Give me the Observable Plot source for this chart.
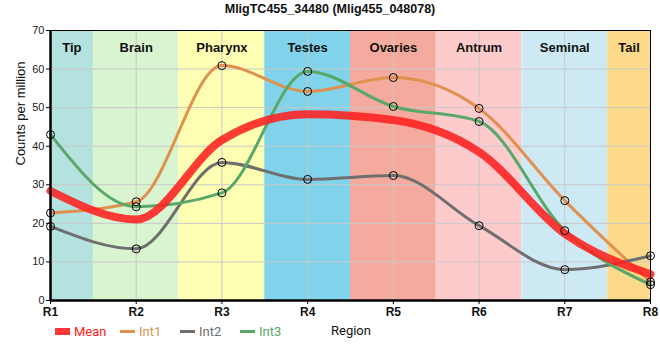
<!DOCTYPE html>
<html>
<head>
<meta charset="utf-8">
<script src="https://cdn.jsdelivr.net/npm/d3@7"></script>
<script src="https://cdn.jsdelivr.net/npm/@observablehq/plot@0.6"></script>
<style>
  html, body { margin: 0; padding: 0; background: #fff; }
  #wrap { position: relative; width: 660px; height: 360px; font-family: "Liberation Sans", Arial, sans-serif; }
  #title { position: absolute; left: 0; top: 2px; width: 660px; text-align: center; font-weight: bold; font-size: 12.5px; color: #111; }
  #chart { position: absolute; left: 0; top: 22px; }
  .leg { position: absolute; top: 322px; font-size: 13px; display: flex; align-items: center; height: 18px; font-family: "Roboto", "Liberation Sans", sans-serif; }
  .sw { display: inline-block; width: 15px; margin-right: 4px; }
  #xlabel { position: absolute; top: 322px; left: 331px; font-size: 13px; color: #111; font-family: "Roboto", "Liberation Sans", sans-serif; line-height: 18px; }
</style>
</head>
<body>
<div id="wrap">
  <div id="title">MligTC455_34480 (Mlig455_048078)</div>
  <div id="chart"></div>
  <div id="legend"></div>
  <div id="xlabel">Region</div>
</div>
<script>
const regions = ["Tip", "Brain", "Pharynx", "Testes", "Ovaries", "Antrum", "Seminal", "Tail"];
const regionStart = [1, 1.5, 2.5, 3.5, 4.5, 5.5, 6.5, 7.5];
const regionEnd = [1.5, 2.5, 3.5, 4.5, 5.5, 6.5, 7.5, 8];
const regionColors = ["#b3e2df", "#d9f5d0", "#ffffb4", "#80d3ea", "#f4aa9c", "#fecbcd", "#cdeaf4", "#fdd98b"];

const positions = [1, 2, 3, 4, 5, 6, 7, 8];
const tickLabels = ["R1", "R2", "R3", "R4", "R5", "R6", "R7", "R8"];
const yTicks = [0, 10, 20, 30, 40, 50, 60, 70];

const seriesNames = ["Mean", "Int1", "Int2", "Int3"];
const seriesColors = ["#ff2020", "#e0914f", "#6f6f6f", "#5aa76a"];
const mean = [28.4, 21.0, 41.6, 48.3, 46.8, 38.5, 17.3, 6.8];
const int1 = [22.7, 25.6, 60.9, 54.2, 57.8, 49.8, 25.9, 4.8];
const int2 = [19.2, 13.4, 35.8, 31.4, 32.4, 19.4, 8.0, 11.6];
const int3 = [43.0, 24.3, 27.9, 59.4, 50.3, 46.4, 18.1, 4.1];

const regionData = regions.map((r, i) => ({name: r, x1: regionStart[i], x2: regionEnd[i], fill: regionColors[i]}));
const toRows = (vals) => vals.map((v, i) => ({x: positions[i], y: v}));
const intSeries = [int1, int2, int3];

const marks = [
  Plot.rect(regionData, {x1: "x1", x2: "x2", y1: 0, y2: 70, fill: "fill"}),
  Plot.gridX(positions, {stroke: "#c8c8c8", strokeOpacity: 1}),
  Plot.gridY(yTicks, {stroke: "#c8c8c8", strokeOpacity: 1}),
];
intSeries.forEach((s, k) => {
  marks.push(Plot.lineY(toRows(s), {x: "x", y: "y", curve: "monotone-x", stroke: seriesColors[k + 1], strokeWidth: 3}));
});
marks.push(Plot.lineY(toRows(mean), {x: "x", y: "y", curve: "monotone-x", stroke: seriesColors[0], strokeWidth: 8, strokeOpacity: 0.88}));
intSeries.forEach((s) => {
  marks.push(Plot.dot(toRows(s), {x: "x", y: "y", r: 4, stroke: "#000", strokeWidth: 1, fill: "none"}));
});
marks.push(
  Plot.text(regionData, {x: d => (d.x1 + d.x2) / 2, frameAnchor: "top", dy: 12, text: "name", fontWeight: "bold", fontSize: 13, fill: "#111"}),
  Plot.axisX(positions, {tickFormat: d => tickLabels[d - 1], tickSize: 4, tickPadding: 3, fontWeight: "bold", fontSize: 12, label: null, fill: "#111"}),
  Plot.axisY(yTicks, {tickSize: 4, tickPadding: 2, fontSize: 11, label: null, fill: "#222"}),
  Plot.frame({stroke: "#000", strokeWidth: 1}),
  Plot.ruleX([1], {stroke: "#000", strokeWidth: 2.5}),
  Plot.ruleY([0], {stroke: "#000", strokeWidth: 2.5}),
  Plot.text(["Counts per million"], {frameAnchor: "left", dx: -30, rotate: -90, fontSize: 13, fill: "#111"})
);

const chart = Plot.plot({
  width: 660,
  height: 298,
  marginLeft: 50,
  marginRight: 10,
  marginTop: 8,
  marginBottom: 20,
  style: {fontFamily: "'Liberation Sans', Arial, sans-serif", background: "transparent", overflow: "visible"},
  x: {domain: [1, 8], label: null},
  y: {domain: [0, 70], label: null},
  marks
});
document.getElementById("chart").appendChild(chart);

const legendLeft = [55, 120, 180, 240];
const legend = document.getElementById("legend");
seriesNames.forEach((name, i) => {
  const item = document.createElement("div");
  item.className = "leg";
  item.style.left = legendLeft[i] + "px";
  const sw = document.createElement("span");
  sw.className = "sw";
  sw.style.height = i === 0 ? "7px" : "3px";
  sw.style.background = seriesColors[i];
  if (i === 0) sw.style.opacity = 0.9;
  const t = document.createElement("span");
  t.textContent = name;
  t.style.color = seriesColors[i];
  item.appendChild(sw);
  item.appendChild(t);
  legend.appendChild(item);
});
</script>
</body>
</html>
